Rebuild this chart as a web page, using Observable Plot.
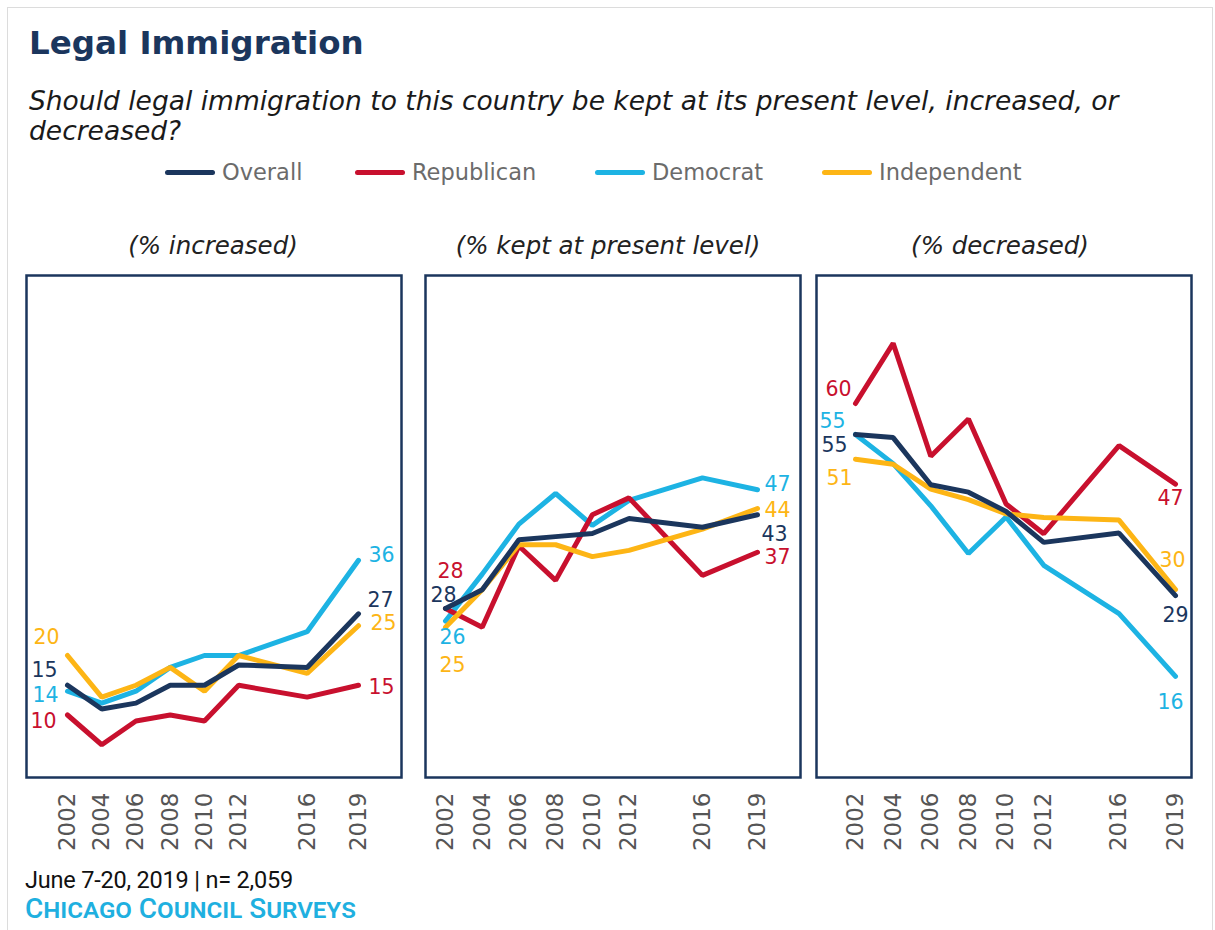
<!DOCTYPE html>
<html><head><meta charset="utf-8">
<script src="https://cdn.jsdelivr.net/npm/d3@7"></script>
<script src="https://cdn.jsdelivr.net/npm/@observablehq/plot@0.6"></script>
<style>
body{margin:0;background:#fff;}
#card{position:relative;width:1215px;height:930px;overflow:hidden;font-family:"DejaVu Sans",sans-serif;background:#fff;}
.abs{position:absolute;white-space:nowrap;}
#border{position:absolute;left:7px;top:7px;width:1204px;height:940px;border:1px solid #dcdcdc;}
#title{left:29px;top:25px;font-size:32.5px;font-weight:bold;color:#1b365d;line-height:36px;}
#subtitle{left:29px;top:86px;font-size:26.5px;font-style:italic;color:#1a1a1a;line-height:30px;}
.leg{position:absolute;top:160px;height:24px;display:flex;align-items:center;font-size:22.5px;color:#6b6b6b;}
.sw{display:inline-block;width:50px;height:5px;border-radius:3px;margin-right:7px;}
.ptitle{position:absolute;top:231px;font-size:24.5px;font-style:italic;color:#222;transform:translateX(-50%);white-space:nowrap;line-height:30px;}
#foot1{left:25px;top:866px;font-family:Roboto,sans-serif;font-size:23.5px;color:#111;line-height:28px;letter-spacing:-0.2px;}
#foot2{left:25px;top:893px;font-family:Roboto,sans-serif;font-size:28px;font-weight:500;font-variant:small-caps;color:#1fb0e0;line-height:32px;}
.panel{position:absolute;top:273px;}
</style></head><body><div id="card">
<div id="border"></div>
</div>
<script>
// ---------- data ----------
const years = [2002, 2004, 2006, 2008, 2010, 2012, 2016, 2019];
const tickYears = [2002, 2004, 2006, 2008, 2010, 2012, 2016, 2019];
const groups = ["Overall", "Republican", "Democrat", "Independent"];
const panelTitles = ["(% increased)", "(% kept at present level)", "(% decreased)"];

// (% increased)
const incOverall     = [15, 11, 12, 15, 15, 18.4, 18, 27];
const incRepublican  = [10, 5, 9, 10, 9, 15, 13, 15];
const incDemocrat    = [14, 12, 14, 18, 20, 20, 24, 36];
const incIndependent = [20, 13, 15, 18, 14, 20, 17, 25];

// (% kept at present level)
const keptOverall     = [28, 31, 39, 39.5, 40, 42.4, 41, 43];
const keptRepublican  = [28, 25, 38, 32.5, 43, 45.7, 33.3, 37];
const keptDemocrat    = [26, 33.5, 41.5, 46.4, 41.3, 45.3, 48.9, 47];
const keptIndependent = [25, 31, 38.2, 38.2, 36.3, 37.3, 40.7, 44];

// (% decreased)
const decOverall     = [55, 54.5, 46.9, 45.7, 42.6, 37.6, 39.1, 29];
const decRepublican  = [60, 69.7, 51.5, 57.5, 43.8, 39, 53.2, 47];
const decDemocrat    = [55, 50.3, 43.5, 35.8, 41.7, 33.9, 26.1, 16];
const decIndependent = [51, 50.2, 46.2, 44.5, 42.2, 41.6, 41.2, 30];

// ---------- styles ----------
const colors = {Overall: "#1b365d", Republican: "#c8102e", Democrat: "#1db3e3", Independent: "#fdb515"};
const drawOrder = ["Democrat", "Republican", "Independent", "Overall"];
const navy = "#1b365d";

// label offsets [dx, dy] for first and last point, per panel
const labelOffsets = [
  {Overall: [[-23,-15],[22,-13]], Republican: [[-24,6],[23,2]], Democrat: [[-22,4],[23,-5]], Independent: [[-21,-18],[25,-2]]},
  {Overall: [[-2,-13],[17,20]], Republican: [[5,-37],[20,5]], Democrat: [[7,16],[20,-5]], Independent: [[7,38],[20,2]]},
  {Overall: [[-21,11],[0,20]], Republican: [[-17,-14],[-5,14]], Democrat: [[-23,-13],[-5,26]], Independent: [[-16,19],[-3,-29]]}
];
const panelLayout = [
  {left: 24,  width: 379, xr: [43, 334], yr: [501, 25], title: 213},
  {left: 423, width: 379, xr: [22, 334], yr: [510, 10], title: 608},
  {left: 814, width: 379, xr: [41, 361], yr: [502, 6],  title: 1000}
];
const panelSeries = [
  {Overall: incOverall, Republican: incRepublican, Democrat: incDemocrat, Independent: incIndependent},
  {Overall: keptOverall, Republican: keptRepublican, Democrat: keptDemocrat, Independent: keptIndependent},
  {Overall: decOverall, Republican: decRepublican, Democrat: decDemocrat, Independent: decIndependent}
];

// ---------- page ----------
const card = document.getElementById("card");
function addDiv(id, cls, html, styleObj) {
  const d = document.createElement("div");
  if (id) d.id = id;
  if (cls) d.className = cls;
  d.innerHTML = html;
  if (styleObj) Object.assign(d.style, styleObj);
  card.appendChild(d);
  return d;
}
addDiv("title", "abs", "Legal Immigration");
addDiv("subtitle", "abs", "Should legal immigration to this country be kept at its present level, increased, or<br>decreased?");
const legendLefts = [165, 355, 595, 822];
groups.forEach((g, i) => {
  addDiv(null, "leg", `<span class="sw" style="background:${colors[g]}"></span>${g}`, {left: legendLefts[i] + "px"});
});
panelTitles.forEach((t, i) => addDiv(null, "ptitle", t, {left: panelLayout[i].title + "px"}));
addDiv("foot1", "abs", "June 7-20, 2019 | n= 2,059");
addDiv("foot2", "abs", "Chicago Council Surveys");

// ---------- panels ----------
const H = 600;
panelSeries.forEach((series, p) => {
  const lay = panelLayout[p];
  const rows = [];
  drawOrder.forEach(g => series[g].forEach((v, i) => rows.push({group: g, year: years[i], value: v})));
  const marks = [
    Plot.frame({stroke: navy, strokeWidth: 2.5}),
    Plot.axisX(tickYears, {tickRotate: -90, tickSize: 0, tickPadding: 15, fontSize: 23, fill: "#555", label: null, tickFormat: d => String(d)}),
    Plot.line(rows, {x: "year", y: "value", z: "group", stroke: d => colors[d.group], strokeWidth: 5, strokeLinejoin: "miter", strokeLinecap: "round"})
  ];
  groups.forEach(g => {
    const s = series[g];
    const off = labelOffsets[p][g];
    const ends = [{year: years[0], value: s[0], k: 0}, {year: years[years.length - 1], value: s[s.length - 1], k: 1}];
    ends.forEach(e => {
      marks.push(Plot.text([e], {x: "year", y: "value", text: d => String(d.value), fill: colors[g],
        dx: off[e.k][0], dy: off[e.k][1], fontSize: 20.5, textAnchor: "middle"}));
    });
  });
  const chart = Plot.plot({
    width: lay.width, height: H,
    marginLeft: 2, marginRight: 2, marginTop: 2, marginBottom: H - 2 - 502,
    x: {domain: [2002, 2019], range: lay.xr, axis: null},
    y: {domain: [0, 80], range: lay.yr, axis: null},
    style: {fontFamily: "'DejaVu Sans', sans-serif", background: "transparent", overflow: "visible"},
    marks
  });
  chart.classList.add("panel");
  chart.style.left = lay.left + "px";
  card.appendChild(chart);
});
</script></body></html>
